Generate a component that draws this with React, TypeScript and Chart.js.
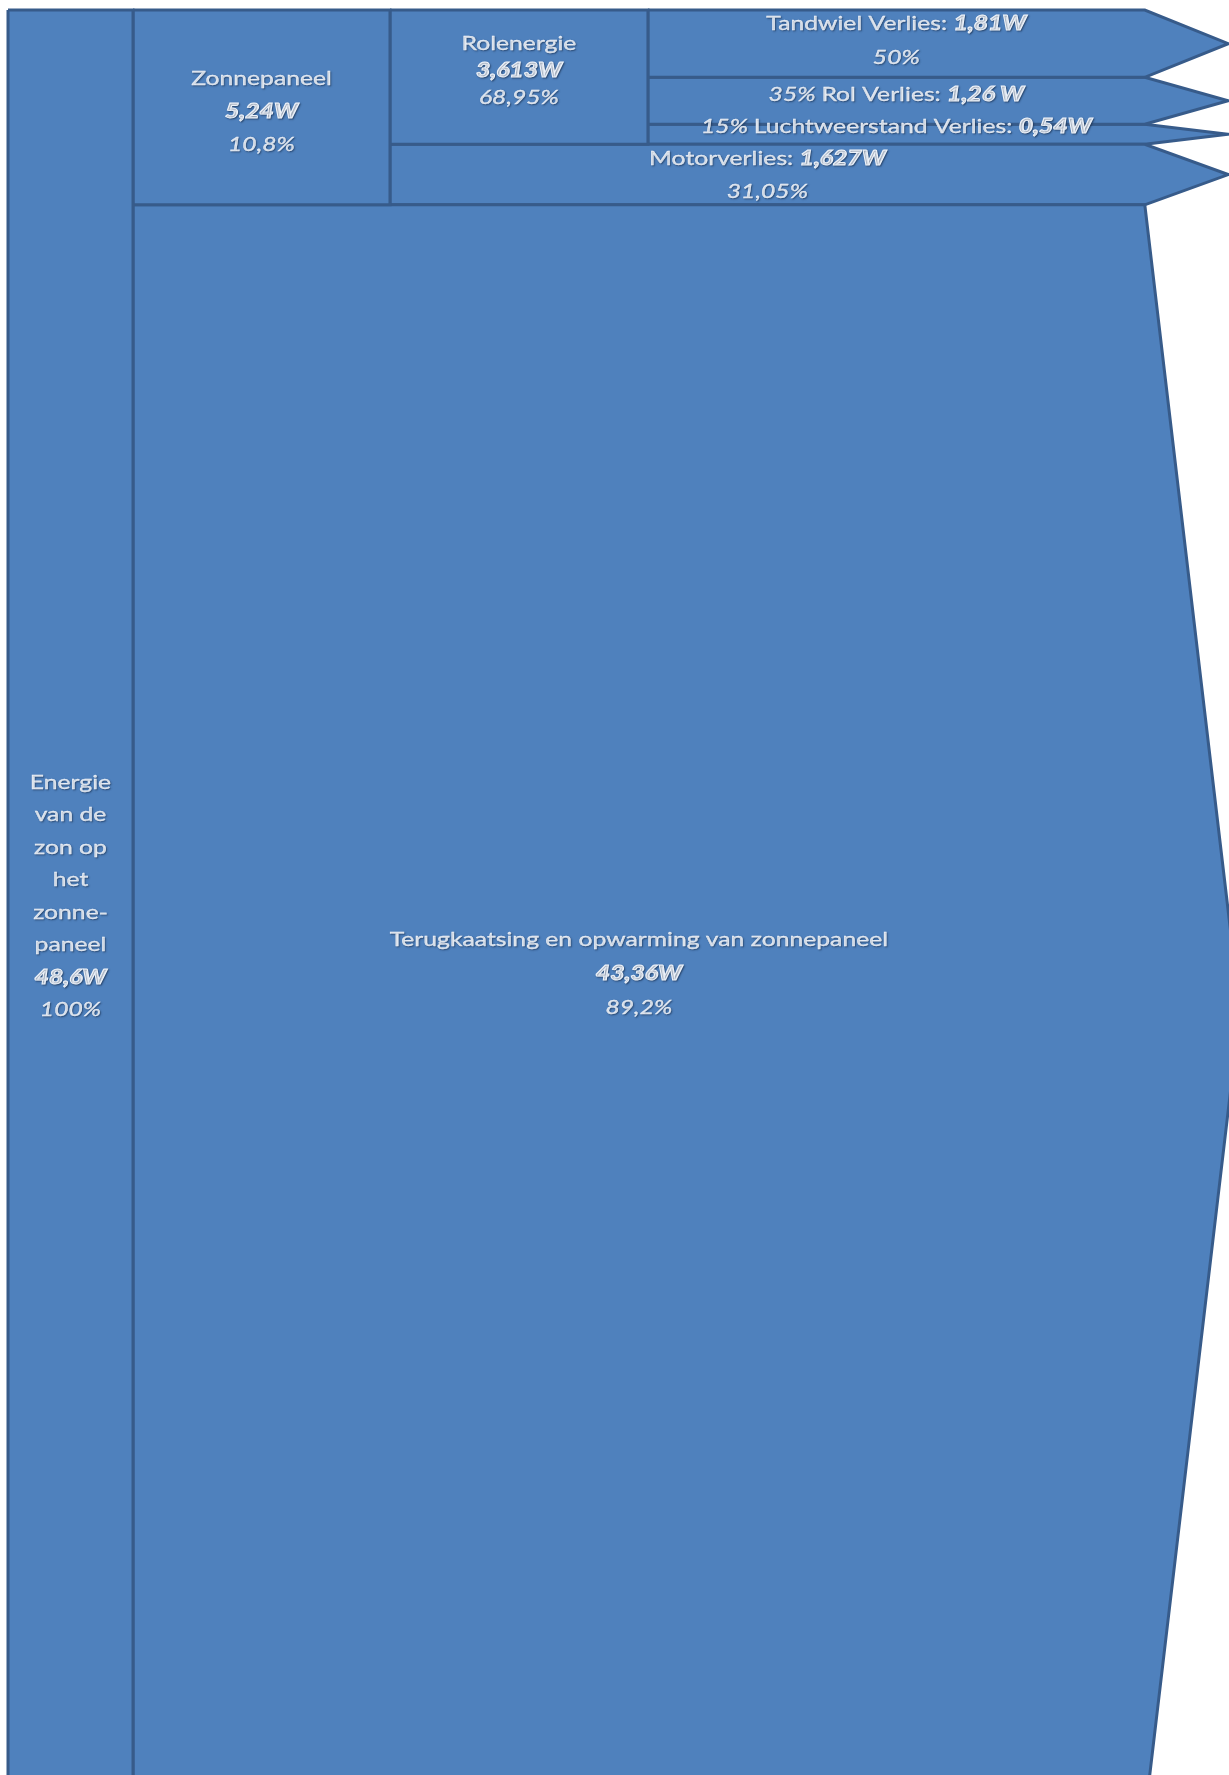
import { useEffect, useRef } from 'react';
import { Chart, registerables } from 'chart.js';

Chart.register(...registerables);

// ---------------- data ----------------
// Flow tree: each node's parent (-1 = source)
const nodeParents = [-1, 0, 0, 1, 1, 3, 3, 3];
// Power of each node in watt
const nodeWatts = [48.6, 5.24, 43.36, 3.613, 1.627, 1.81, 1.26, 0.54];
// Node names (as written in the picture, line pieces)
const nodeNameLines = [
  ['Energie', 'van de', 'zon op', 'het', 'zonne-', 'paneel'],
  ['Zonnepaneel'],
  ['Terugkaatsing en opwarming van zonnepaneel'],
  ['Rolenergie'],
  ['Motorverlies:'],
  ['Tandwiel Verlies:'],
  ['Rol Verlies:'],
  ['Luchtweerstand Verlies:'],
];
const wattLabels = ['48,6W', '5,24W', '43,36W', '3,613W', '1,627W', '1,81W', '1,26 W', '0,54W'];
const percentLabels = ['100%', '10,8%', '89,2%', '68,95%', '31,05%', '50%', '35%', '15%'];

// ---------------- layout / style ----------------
const CANVAS_W = 1242;
const CANVAS_H = 1782;
const X_MAX = 101;
const Y_VIEW_MAX = 47.5; // visible part of the 48.6 W column (picture is cut at the bottom)
const COLUMN_EDGES = [0, 10.24, 31.29, 52.42];
const ARROW_BASE = 93.12;
const FILL = '#4f81bd';
const BORDER = '#375b8a';
const TEXT = '#eef3fa';
const FONT = 'Lato, "Open Sans", sans-serif';
const FONT_SIZE = 20;
const H_STRETCH = 1.235;
const labelKinds = ['stack', 'stack', 'stack', 'stack', 'twoLine', 'twoLine', 'oneLine', 'oneLine'];
const lineHeights = [32.5, 33, 34, 27, 33, 34, 32, 32];
const labelDy = [3, 4, -17, -7, 0, -3, -6, -7.5];

type Geo = { x0: number; x1: number; tip: number | null; top: number; bottom: number };

function computeLayout(): Geo[] {
  const depth: number[] = [];
  const top: number[] = [];
  const next: Record<number, number> = {};
  const geos: Geo[] = [];
  nodeWatts.forEach((w, i) => {
    const p = nodeParents[i];
    if (p < 0) {
      depth[i] = 0;
      top[i] = 0;
    } else {
      depth[i] = depth[p] + 1;
      top[i] = next[p] ?? top[p];
      next[p] = top[i] + w;
    }
    const hasChildren = nodeParents.includes(i);
    const x0 = COLUMN_EDGES[depth[i]];
    const x1 = hasChildren ? COLUMN_EDGES[depth[i] + 1] : ARROW_BASE;
    const tip = hasChildren ? null : ARROW_BASE + 6.8 + 0.023 * w;
    geos.push({ x0, x1, tip, top: top[i], bottom: top[i] + w });
  });
  return geos;
}

function polygon(g: Geo) {
  const mid = (g.top + g.bottom) / 2;
  const pts = [
    { x: g.x0, y: g.top },
    { x: g.x1, y: g.top },
  ];
  if (g.tip !== null) pts.push({ x: g.tip, y: mid });
  pts.push({ x: g.x1, y: g.bottom }, { x: g.x0, y: g.bottom }, { x: g.x0, y: g.top });
  return pts;
}

type Seg = { text: string; style: 'normal' | 'bold' | 'italic' };

function labelLines(i: number): Seg[][] {
  const name = nodeNameLines[i];
  const w = wattLabels[i];
  const p = percentLabels[i];
  if (labelKinds[i] === 'stack') {
    return [
      ...name.map((t) => [{ text: t, style: 'normal' as const }]),
      [{ text: w, style: 'bold' }],
      [{ text: p, style: 'italic' }],
    ];
  }
  if (labelKinds[i] === 'twoLine') {
    return [
      [
        { text: name[0] + ' ', style: 'normal' },
        { text: w, style: 'bold' },
      ],
      [{ text: p, style: 'italic' }],
    ];
  }
  return [
    [
      { text: p + ' ', style: 'italic' },
      { text: name[0] + ' ', style: 'normal' },
      { text: w, style: 'bold' },
    ],
  ];
}

function fontFor(style: Seg['style']) {
  if (style === 'bold') return `italic 900 ${FONT_SIZE}px ${FONT}`;
  if (style === 'italic') return `italic ${FONT_SIZE}px ${FONT}`;
  return `normal ${FONT_SIZE}px ${FONT}`;
}

export default function App() {
  const ref = useRef<HTMLCanvasElement | null>(null);

  useEffect(() => {
    const canvas = ref.current;
    if (!canvas) return;
    const geos = computeLayout();

    const labelPlugin = {
      id: 'flowLabels',
      afterDatasetsDraw(chart: any) {
        const { ctx, scales, chartArea } = chart;
        const xs = scales.x;
        const ys = scales.y;
        geos.forEach((g, i) => {
          const cx = (xs.getPixelForValue(g.x0) + xs.getPixelForValue(g.x1)) / 2;
          const yTop = ys.getPixelForValue(g.top);
          const yBot = Math.min(ys.getPixelForValue(g.bottom), chartArea.bottom);
          const cy = (yTop + yBot) / 2 + labelDy[i];
          const lines = labelLines(i);
          const lh = lineHeights[i];
          ctx.save();
          ctx.fillStyle = TEXT;
          ctx.strokeStyle = TEXT;
          ctx.textBaseline = 'middle';
          ctx.textAlign = 'left';
          ctx.shadowColor = 'rgba(20,40,70,0.55)';
          ctx.shadowOffsetX = 1;
          ctx.shadowOffsetY = 1;
          ctx.shadowBlur = 1.5;
          lines.forEach((segs, k) => {
            const y = cy + (k - (lines.length - 1) / 2) * lh;
            const widths = segs.map((s) => {
              ctx.font = fontFor(s.style);
              return ctx.measureText(s.text).width * H_STRETCH;
            });
            const total = widths.reduce((a, b) => a + b, 0);
            let x = cx - total / 2;
            segs.forEach((s, j) => {
              ctx.font = fontFor(s.style);
              ctx.save();
              ctx.translate(x, y);
              ctx.scale(H_STRETCH, 1);
              ctx.lineWidth = s.style === 'bold' ? 0.9 : 0.3;
              ctx.fillText(s.text, 0, 0);
              ctx.strokeText(s.text, 0, 0);
              ctx.restore();
              x += widths[j];
            });
          });
          ctx.restore();
        });
      },
    };

    const chart = new Chart(canvas, {
      type: 'scatter',
      data: {
        datasets: geos.map((g) => ({
          data: polygon(g),
          showLine: true,
          fill: 'shape',
          backgroundColor: FILL,
          borderColor: BORDER,
          borderWidth: 3,
          borderJoinStyle: 'miter',
          pointRadius: 0,
          pointHoverRadius: 0,
          tension: 0,
          clip: false,
        })),
      } as any,
      options: {
        responsive: false,
        animation: false,
        devicePixelRatio: 1,
        layout: { padding: { left: 8, right: 1, top: 10, bottom: 6 } },
        plugins: {
          legend: { display: false },
          tooltip: { enabled: false },
        },
        events: [],
        scales: {
          x: { type: 'linear', min: 0, max: X_MAX, display: false },
          y: { type: 'linear', min: 0, max: Y_VIEW_MAX, reverse: true, display: false },
        },
      } as any,
      plugins: [labelPlugin],
    });
    return () => chart.destroy();
  }, []);

  return (
    <div style={{ position: 'fixed', left: 0, top: 0, width: CANVAS_W, height: CANVAS_H, background: '#ffffff' }}>
      <canvas ref={ref} width={CANVAS_W} height={CANVAS_H} style={{ display: 'block', width: CANVAS_W, height: CANVAS_H }} />
    </div>
  );
}
